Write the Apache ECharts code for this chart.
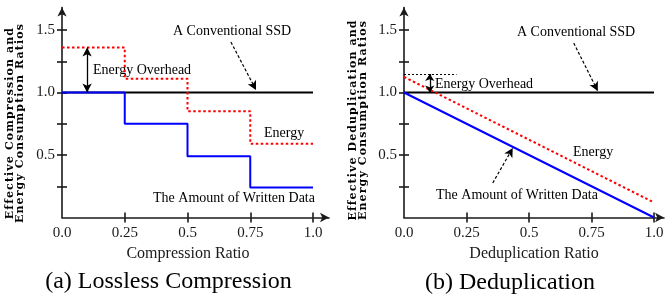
<!DOCTYPE html>
<html>
<head>
<meta charset="utf-8">
<script src="https://cdn.jsdelivr.net/npm/echarts@6/dist/echarts.min.js"></script>
<style>
html,body{margin:0;padding:0;background:#fff;}
#chart{width:669px;height:304px;}
</style>
</head>
<body>
<div id="chart"></div>
<script>
// ---- Data ----
var compX = [0, 0.25, 0.5, 0.75, 1.0];
var compWritten = [1.0, 0.75, 0.49, 0.24, 0.24];
var compEnergy = [1.36, 1.11, 0.85, 0.59, 0.59];
var dedupX = [0, 1.0];
var dedupWritten = [1.0, 0.0];
var dedupEnergy = [1.125, 0.12];
var ssdX = [0, 1.0];
var ssdY = [1.0, 1.0];
var overheadLevelDedup = 1.148;

var xTickValues = [0.25, 0.5, 0.75, 1.0];
var xLabelValues = [0, 0.25, 0.5, 0.75, 1.0];
var xLabelTexts = ['0.0', '0.25', '0.5', '0.75', '1.0'];
var yTickValues = [0.25, 0.5, 0.75, 1.0, 1.25, 1.5];
var yLabelValues = [0.5, 1.0, 1.5];
var yLabelTexts = ['0.5', '1.0', '1.5'];

var pairs = function (xs, ys) { return xs.map(function (x, i) { return [x, ys[i]]; }); };

// letter-spaced bold axis titles (canvas letterSpacing, applied only to that font)
(function () {
  var proto = CanvasRenderingContext2D.prototype;
  var orig = proto.fillText;
  proto.fillText = function (t, x, y, m) {
    var spaced = this.font && this.font.indexOf('DejaVu Serif') >= 0 && ('letterSpacing' in this);
    if (spaced) {
      this.save();
      this.letterSpacing = '1.1px';
      var f = this.font; this.font = f;
    }
    var r = m === undefined ? orig.call(this, t, x, y) : orig.call(this, t, x, y, m);
    if (spaced) {
      this.restore();
      this.letterSpacing = '0px';
      var g = this.font; this.font = g;
    } else if ('letterSpacing' in this && this.letterSpacing !== '0px') {
      this.letterSpacing = '0px';
      var h = this.font; this.font = h;
    }
    return r;
  };
})();

var SERIF = '"Liberation Serif", "Times New Roman", serif';
var AX = '#1a1a1a';

function xAxes(gridIndex, max, name, namePad) {
  var base = {
    type: 'value', gridIndex: gridIndex, min: 0, max: max, position: 'bottom',
    splitLine: { show: false }
  };
  return [
    Object.assign({}, base, {
      name: name, nameLocation: 'middle', nameGap: 28,
      nameTextStyle: { fontFamily: SERIF, fontSize: 16, color: AX, padding: namePad },
      axisLine: { show: true, lineStyle: { color: AX, width: 1.6 }, symbol: ['none', 'arrow'], symbolSize: [7, 9] },
      axisTick: { show: true, inside: false, length: 5, lineStyle: { color: AX, width: 1.6 }, customValues: xTickValues },
      axisLabel: {
        show: true, margin: 8, fontFamily: SERIF, fontSize: 15, color: AX,
        customValues: xLabelValues,
        formatter: function (v) { var i = xLabelValues.indexOf(v); return i >= 0 ? xLabelTexts[i] : ''; }
      }
    }),
    Object.assign({}, base, {
      axisLine: { show: false },
      axisTick: { show: true, inside: true, length: 5, lineStyle: { color: AX, width: 1.6 }, customValues: xTickValues },
      axisLabel: { show: false }
    })
  ];
}
function yAxes(gridIndex, max) {
  var base = {
    type: 'value', gridIndex: gridIndex, min: 0, max: max, position: 'left',
    splitLine: { show: false }
  };
  return [
    Object.assign({}, base, {
      axisLine: { show: true, lineStyle: { color: AX, width: 1.6 }, symbol: ['none', 'arrow'], symbolSize: [7, 9] },
      axisTick: { show: true, inside: false, length: 5, lineStyle: { color: AX, width: 1.6 }, customValues: yTickValues },
      axisLabel: {
        show: true, margin: 7, fontFamily: SERIF, fontSize: 15, color: AX,
        customValues: yLabelValues,
        formatter: function (v) { var i = yLabelValues.indexOf(v); return i >= 0 ? yLabelTexts[i] : ''; }
      }
    }),
    Object.assign({}, base, {
      axisLine: { show: false },
      axisTick: { show: true, inside: true, length: 5, lineStyle: { color: AX, width: 1.6 }, customValues: yTickValues },
      axisLabel: { show: false }
    })
  ];
}

var arrowStyle = { color: '#000', width: 1.2, type: [3, 2] };

function txt(text, x, y, opts) {
  opts = opts || {};
  return {
    type: 'text', x: x, y: y, rotation: opts.rotation || 0, silent: true,
    style: {
      text: text, fill: '#000',
      fontFamily: opts.family || SERIF, fontSize: opts.size || 14,
      fontWeight: opts.weight || 'normal',
      align: opts.align || 'left', verticalAlign: 'middle'
    }
  };
}
var YFONT = { family: '"DejaVu Serif", serif', size: 11, weight: 'bold', align: 'center', rotation: Math.PI / 2 };

var option = {
  animation: false,
  backgroundColor: '#fff',
  grid: [
    { left: 62, top: 7.5, width: 267, height: 210 },
    { left: 404, top: 7.5, width: 260, height: 210 }
  ],
  xAxis: [].concat(xAxes(0, 267 / 251, 'Compression Ratio', [0, 15, 0, 0]), xAxes(1, 1.04, 'Deduplication Ratio', [0, 0, 0, 0])),
  yAxis: [].concat(yAxes(0, 1.68), yAxes(1, 1.68)),
  series: [
    // ---- (a) Lossless Compression ----
    {
      type: 'line', xAxisIndex: 0, yAxisIndex: 0, data: pairs(ssdX, ssdY), symbol: 'none',
      lineStyle: { color: '#000', width: 2 }, z: 2,
      markLine: {
        silent: true, animation: false, label: { show: false },
        data: [
          [{ coord: [0.1, 1.36], symbol: 'arrow', symbolSize: [7, 9], lineStyle: { color: '#000', width: 1.3, type: 'solid' } },
           { coord: [0.1, 1.0], symbol: 'arrow', symbolSize: [7, 9] }],
          [{ coord: [0.673, 1.404], symbol: 'none', lineStyle: arrowStyle },
           { coord: [0.773, 1.02], symbol: 'arrow', symbolSize: [7, 9] }]
        ]
      }
    },
    {
      type: 'line', xAxisIndex: 0, yAxisIndex: 0, data: pairs(compX, compWritten), step: 'end', symbol: 'none',
      lineStyle: { color: '#0000ff', width: 2 }, z: 3
    },
    {
      type: 'line', xAxisIndex: 0, yAxisIndex: 0, data: pairs(compX, compEnergy), step: 'end', symbol: 'none',
      lineStyle: { color: '#ff0000', width: 2, type: [2.5, 2.5] }, z: 4
    },
    // ---- (b) Deduplication ----
    {
      type: 'line', xAxisIndex: 2, yAxisIndex: 2, data: pairs(ssdX, ssdY), symbol: 'none',
      lineStyle: { color: '#000', width: 2 }, z: 2,
      markLine: {
        silent: true, animation: false, label: { show: false },
        data: [
          [{ coord: [0, overheadLevelDedup], symbol: 'none', lineStyle: { color: '#000', width: 1, type: [2, 2] } },
           { coord: [0.21, overheadLevelDedup], symbol: 'none' }],
          [{ coord: [0.103, overheadLevelDedup], symbol: 'arrow', symbolSize: [7, 7], lineStyle: { color: '#000', width: 1.3, type: 'solid' } },
           { coord: [0.103, 1.0], symbol: 'arrow', symbolSize: [7, 7] }],
          [{ coord: [0.679, 1.396], symbol: 'none', lineStyle: arrowStyle },
           { coord: [0.775, 1.012], symbol: 'arrow', symbolSize: [7, 9] }],
          [{ coord: [0.355, 0.276], symbol: 'none', lineStyle: arrowStyle },
           { coord: [0.435, 0.556], symbol: 'arrow', symbolSize: [7, 9] }]
        ]
      }
    },
    {
      type: 'line', xAxisIndex: 2, yAxisIndex: 2, data: pairs(dedupX, dedupWritten), symbol: 'none',
      lineStyle: { color: '#0000ff', width: 2 }, z: 3
    },
    {
      type: 'line', xAxisIndex: 2, yAxisIndex: 2, data: pairs(dedupX, dedupEnergy), symbol: 'none',
      lineStyle: { color: '#ff0000', width: 2, type: [2.5, 2.5] }, z: 4
    }
  ],
  graphic: [
    // left annotations
    txt('A Conventional SSD', 173, 31),
    txt('Energy Overhead', 93, 70),
    txt('Energy', 264, 133),
    txt('The Amount of Written Data', 153, 198),
    // right annotations
    txt('A Conventional SSD', 517, 32),
    txt('Energy Overhead', 435, 84),
    txt('Energy', 573, 152),
    txt('The Amount of Written Data', 436, 195),
    // y-axis titles
    txt('Effective Compression and', 10.5, 123, YFONT),
    txt('Energy Consumption Ratios', 20.5, 123, YFONT),
    txt('Effective Deduplication and', 352.7, 120, YFONT),
    txt('Energy Consumption Ratios', 363.5, 120, YFONT),
    // captions
    txt('(a) Lossless Compression', 168.5, 282, { size: 24, align: 'center' }),
    txt('(b) Deduplication', 510, 283, { size: 24, align: 'center' })
  ]
};

var chart = echarts.init(document.getElementById('chart'), null, { renderer: 'canvas' });
chart.setOption(option);
</script>
</body>
</html>
